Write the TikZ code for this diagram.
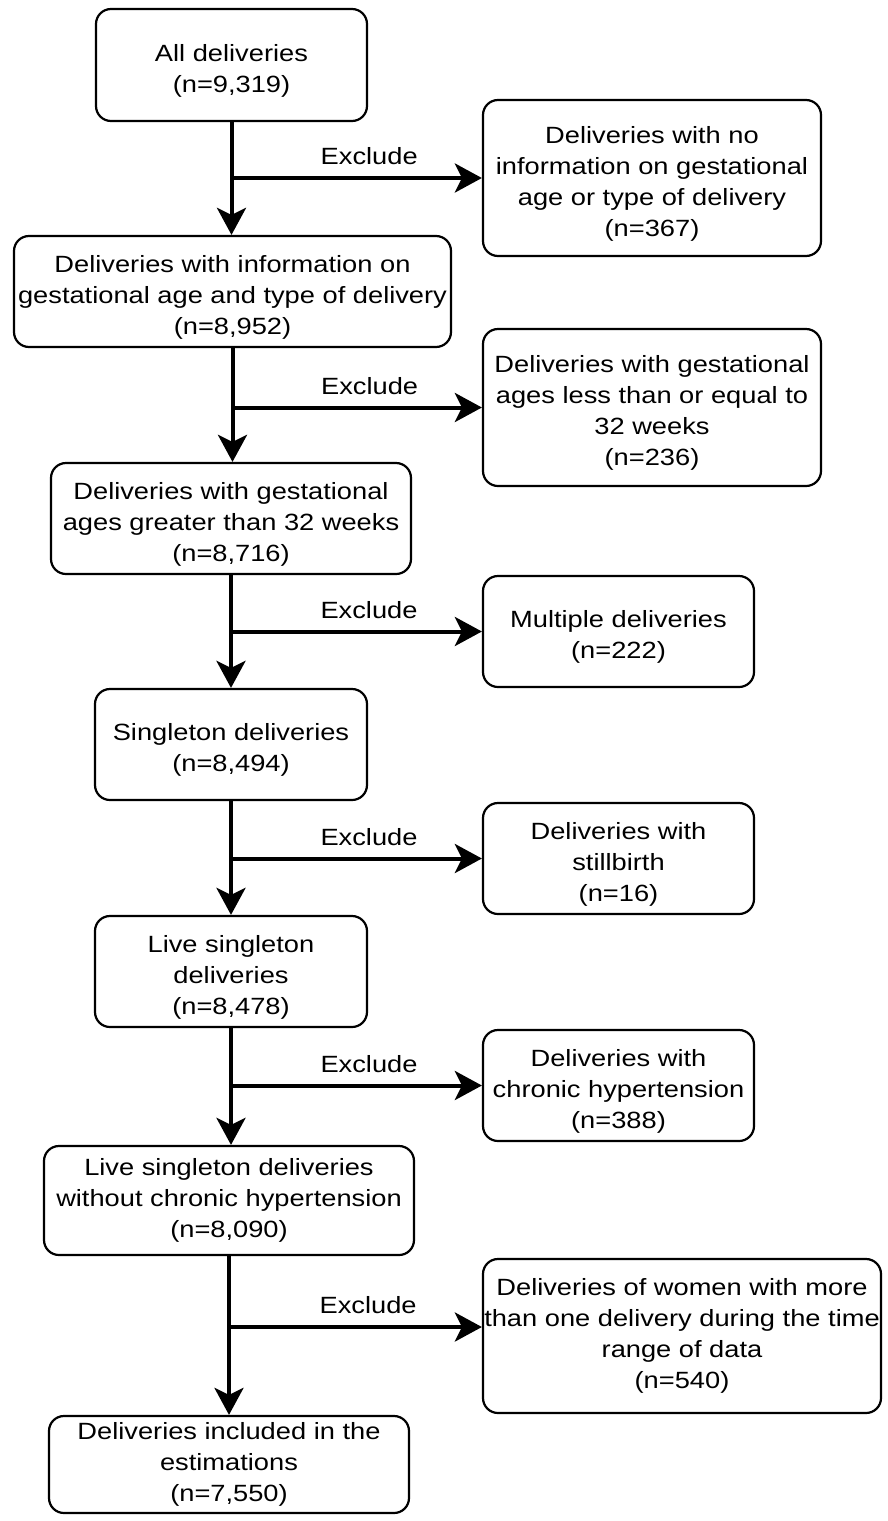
\documentclass[tikz,border=0pt]{standalone}
\usepackage{fontspec}
\setmainfont{Liberation Sans}[FakeStretch=1.16]
\usetikzlibrary{arrows.meta}

\newcommand{\lift}{\rule{0pt}{28pt}}

\tikzset{
  stagebox/.style={draw, line width=2.2pt, rounded corners=15pt, align=center,
    inner sep=0pt, font=\fontsize{23.5}{31}\selectfont},
  flow/.style={line width=4pt, -{Stealth[length=27pt, width=29pt, inset=7pt]}},
  excl/.style={anchor=south, inner sep=0pt, yshift=11pt, font=\fontsize{23.5}{31}\selectfont}
}

\begin{document}
\begin{tikzpicture}[x=1pt, y=-1pt]
  \useasboundingbox (0,0) rectangle (888,1521);

  % main column
  \node[stagebox, minimum width=271pt, minimum height=112pt] (all) at (231.5,65)
    {\lift All deliveries\\(n=9,319)};
  \node[stagebox, minimum width=437pt, minimum height=111pt] (withinfo) at (232.5,291.5)
    {\lift Deliveries with information on\\gestational age and type of delivery\\(n=8,952)};
  \node[stagebox, minimum width=360pt, minimum height=111pt] (over32) at (231,518.5)
    {\lift Deliveries with gestational\\ages greater than 32 weeks\\(n=8,716)};
  \node[stagebox, minimum width=272pt, minimum height=111pt] (singleton) at (231,744.5)
    {\lift Singleton deliveries\\(n=8,494)};
  \node[stagebox, minimum width=272pt, minimum height=111pt] (live) at (231,971.5)
    {\lift Live singleton\\deliveries\\(n=8,478)};
  \node[stagebox, minimum width=370pt, minimum height=109pt] (nohyp) at (229,1200.5)
    {Live singleton deliveries\\without chronic hypertension\\(n=8,090)};
  \node[stagebox, minimum width=360pt, minimum height=97pt] (included) at (229,1464.5)
    {Deliveries included in the\\estimations\\(n=7,550)};

  % exclusions
  \node[stagebox, minimum width=338pt, minimum height=156pt] (noinfo) at (652,178)
    {\lift Deliveries with no\\information on gestational\\age or type of delivery\\(n=367)};
  \node[stagebox, minimum width=338pt, minimum height=157pt] (under32) at (652,407.5)
    {\lift Deliveries with gestational\\ages less than or equal to\\32 weeks\\(n=236)};
  \node[stagebox, minimum width=271pt, minimum height=111pt] (multiple) at (618.5,631.5)
    {\lift Multiple deliveries\\(n=222)};
  \node[stagebox, minimum width=271pt, minimum height=111pt] (stillbirth) at (618.5,858.5)
    {\lift Deliveries with\\stillbirth\\(n=16)};
  \node[stagebox, minimum width=271pt, minimum height=111pt] (chronic) at (618.5,1085.5)
    {\lift Deliveries with\\chronic hypertension\\(n=388)};
  \node[stagebox, minimum width=398pt, minimum height=154pt] (repeated) at (682,1336)
    {Deliveries of women with more\\than one delivery during the time\\range of data\\(n=540)};

  \coordinate (repeatedin) at ([yshift=9pt]repeated.west);

  % arrows
  \foreach \a/\b in {all/withinfo, withinfo/over32, over32/singleton,
                     singleton/live, live/nohyp, nohyp/included}
    \draw[flow] (\a.south) -- (\a.south |- \b.north);
  \foreach \a/\b in {all/noinfo.west, withinfo/under32.west, over32/multiple.west,
                     singleton/stillbirth.west, live/chronic.west, nohyp/repeatedin}
    \draw[flow] (\a.south |- \b) -- node[excl, pos=0.55]{Exclude} (\b);
\end{tikzpicture}
\end{document}
